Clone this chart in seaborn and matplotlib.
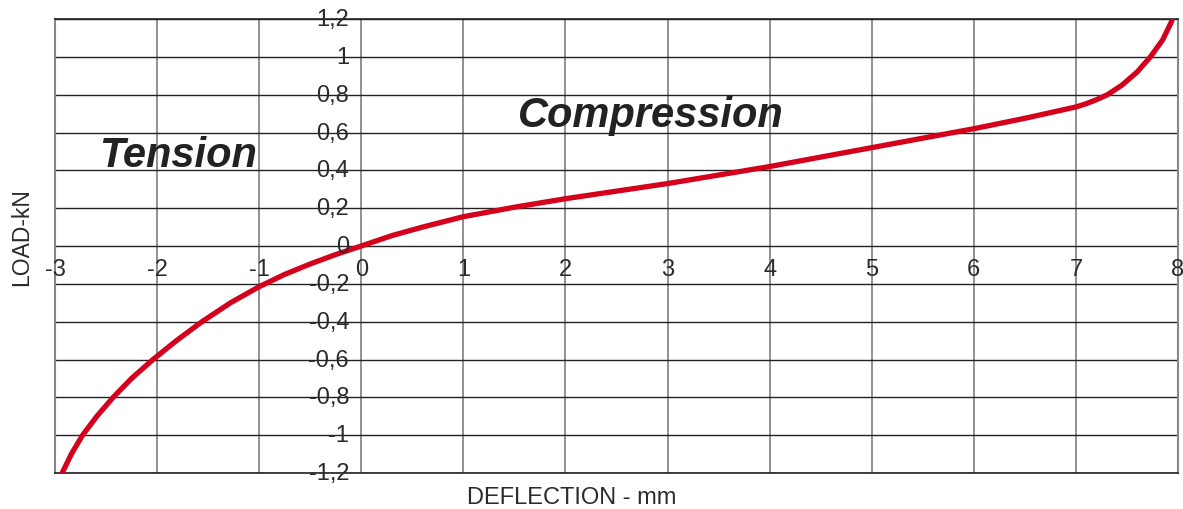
import matplotlib
matplotlib.use("Agg")
import matplotlib.pyplot as plt
import seaborn as sns
import pandas as pd

# Data
deflection = [-2.93, -2.84, -2.73, -2.59, -2.43, -2.25, -2.04, -1.81, -1.56, -1.28, -1.0, -0.75, -0.5, -0.25,
              0.0, 0.3, 0.6, 1.0, 1.5, 2.0, 2.5, 3.0, 3.5, 4.0, 4.5, 5.0, 5.5, 6.0, 6.5, 7.0,
              7.1, 7.2, 7.31, 7.45, 7.6, 7.73, 7.85, 7.94]
load = [-1.2, -1.1, -1.0, -0.9, -0.8, -0.7, -0.6, -0.5, -0.4, -0.3, -0.215, -0.15, -0.095, -0.045,
        0.0, 0.055, 0.1, 0.155, 0.205, 0.25, 0.29, 0.33, 0.375, 0.42, 0.47, 0.52, 0.57, 0.62, 0.675, 0.735,
        0.752, 0.773, 0.8, 0.85, 0.92, 1.0, 1.09, 1.19]

x_ticks = [-3, -2, -1, 0, 1, 2, 3, 4, 5, 6, 7, 8]
x_labels = ["-3", "-2", "-1", "0", "1", "2", "3", "4", "5", "6", "7", "8"]
y_ticks = [-1.2, -1.0, -0.8, -0.6, -0.4, -0.2, 0.0, 0.2, 0.4, 0.6, 0.8, 1.0, 1.2]
y_labels = ["-1,2", "-1", "-0,8", "-0,6", "-0,4", "-0,2", "0", "0,2", "0,4", "0,6", "0,8", "1", "1,2"]

sns.set_theme(style="white")
plt.rcParams["font.family"] = ["Liberation Sans", "DejaVu Sans"]

fig = plt.figure(figsize=(11.83, 5.10), dpi=100)
ax = fig.add_axes([55 / 1183, 1 - 474 / 510, (1178 - 55) / 1183, (474 - 20) / 510])

df = pd.DataFrame({"DEFLECTION": deflection, "LOAD": load})
sns.lineplot(data=df, x="DEFLECTION", y="LOAD", ax=ax, color="#d5001c", linewidth=3.8,
             sort=False, estimator=None, zorder=5)

ax.set_xlim(-3, 8)
ax.set_ylim(-1.2, 1.2)
ax.set_xticks(x_ticks)
ax.set_yticks(y_ticks)
ax.set_xticklabels([])
ax.set_yticklabels([])
ax.tick_params(length=0)
ax.xaxis.grid(True, color="#888888", linewidth=1.3)
ax.yaxis.grid(True, color="#222222", linewidth=1.0)
ax.set_axisbelow(True)
for side in ["top", "bottom"]:
    ax.spines[side].set_color("#222222")
    ax.spines[side].set_linewidth(1.2)
for side in ["left", "right"]:
    ax.spines[side].set_color("#888888")
    ax.spines[side].set_linewidth(1.5)

txt_color = "#2b2b2b"
for xv, lab in zip(x_ticks, x_labels):
    ax.text(xv, -0.12, lab, ha="center", va="center", fontsize=17, color=txt_color, zorder=6)
for yv, lab in zip(y_ticks, y_labels):
    ax.text(-0.12, yv, lab, ha="right", va="center", fontsize=17, color=txt_color, zorder=6)

ax.text(-1.80, 0.48, "Tension", ha="center", va="center", fontsize=30, fontweight="bold",
        fontstyle="italic", color="#222222", zorder=6)
ax.text(2.84, 0.695, "Compression", ha="center", va="center", fontsize=30, fontweight="bold",
        fontstyle="italic", color="#222222", zorder=6)

ax.set_xlabel("DEFLECTION - mm", fontsize=17, color=txt_color)
ax.xaxis.set_label_coords(0.460, -0.053)
ax.xaxis.label.set_va("center")
ax.set_ylabel("LOAD-kN", fontsize=16.5, color=txt_color)
ax.yaxis.set_label_coords(-0.030, 0.522)
ax.yaxis.label.set_va("center")

fig.savefig("out.png", dpi=100)
